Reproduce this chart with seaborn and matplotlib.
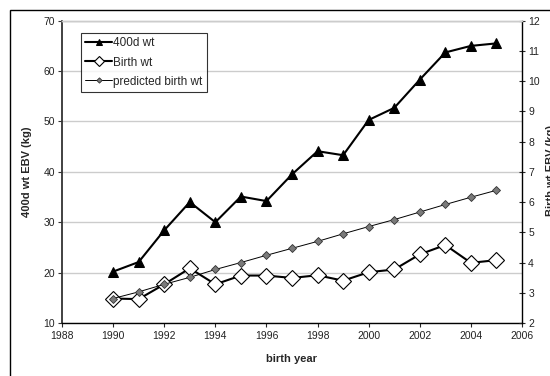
import matplotlib
matplotlib.use("Agg")
import matplotlib.pyplot as plt
import seaborn as sns
import pandas as pd
from matplotlib.patches import Rectangle

years = [1990, 1991, 1992, 1993, 1994, 1995, 1996, 1997,
         1998, 1999, 2000, 2001, 2002, 2003, 2004, 2005]
wt400 = [20.2, 22.1, 28.4, 34.0, 30.0, 35.1, 34.2, 39.5,
         44.1, 43.3, 50.3, 52.7, 58.3, 63.7, 65.0, 65.5]
birth_wt = [2.81, 2.79, 3.28, 3.81, 3.28, 3.57, 3.57, 3.49,
            3.58, 3.40, 3.68, 3.77, 4.27, 4.58, 3.99, 4.08]
pred_birth = [2.81, 3.03, 3.28, 3.51, 3.77, 4.00, 4.24, 4.47,
              4.70, 4.95, 5.19, 5.42, 5.67, 5.92, 6.16, 6.39]
x_ticks = [1988, 1990, 1992, 1994, 1996, 1998, 2000, 2002, 2004, 2006]
left_ticks = [10, 20, 30, 40, 50, 60, 70]
right_ticks = [2, 3, 4, 5, 6, 7, 8, 9, 10, 11, 12]

df = pd.DataFrame({"year": years, "wt400": wt400, "birth": birth_wt, "pred": pred_birth})

sns.set_style("white")
plt.rcParams["font.family"] = ["Liberation Sans", "DejaVu Sans"]

fig = plt.figure(figsize=(5.5, 3.76), dpi=100)
ax = fig.add_axes([62/550, 1-323/376, (522-62)/550, (323-20.7)/376])
ax2 = ax.twinx()

sns.lineplot(data=df, x="year", y="wt400", ax=ax, color="black", linewidth=1.5,
             marker="^", markersize=7.5, markerfacecolor="black",
             markeredgecolor="black", label="400d wt", legend=False)
sns.lineplot(data=df, x="year", y="birth", ax=ax2, color="black", linewidth=1.5,
             marker="D", markersize=8, markerfacecolor="white",
             markeredgecolor="black", markeredgewidth=0.8, label="Birth wt", legend=False)
sns.lineplot(data=df, x="year", y="pred", ax=ax2, color="black", linewidth=0.7,
             marker="D", markersize=4.5, markerfacecolor="#7a7a7a",
             markeredgecolor="#333333", markeredgewidth=0.6, label="predicted birth wt", legend=False)

ax.set_xlim(1988, 2006)
ax.set_ylim(10, 70)
ax2.set_ylim(2, 12)
ax.set_xticks(x_ticks)
ax.set_yticks(left_ticks)
ax2.set_yticks(right_ticks)

ax.yaxis.grid(True, color="#cccccc", linewidth=1)
ax.xaxis.grid(False)
ax.set_axisbelow(True)
ax2.grid(False)

for a in (ax, ax2):
    a.spines["top"].set_color("#cccccc")
    a.spines["top"].set_linewidth(1)
ax.spines["left"].set_color("#333333")
ax.spines["left"].set_linewidth(1.3)
ax2.spines["left"].set_visible(False)
ax.spines["bottom"].set_color("black")
ax.spines["bottom"].set_linewidth(1)
ax2.spines["bottom"].set_visible(False)
ax2.spines["right"].set_color("black")
ax2.spines["right"].set_linewidth(1)
ax.spines["right"].set_visible(False)

ax.tick_params(axis="y", which="both", left=True, direction="out", length=3,
               width=0.8, color="#333333", labelsize=7.5, pad=2, labelcolor="#222222")
ax.tick_params(axis="x", bottom=True, direction="out", length=3, width=0.8,
               labelsize=7.5, pad=3, labelcolor="#222222")
ax2.tick_params(axis="y", right=True, direction="inout", length=5, width=0.8,
                labelsize=7.5, pad=2, labelcolor="#222222")

ax.set_xlabel("birth year", fontsize=8, fontweight="bold", labelpad=9)
ax.set_ylabel("400d wt EBV (kg)", fontsize=8, fontweight="bold", labelpad=8)
ax2.set_ylabel("")
fig.text(551/550, 1-170/376, "Birth wt EBV (kg)", rotation=90, ha="center",
         va="center", fontsize=8, fontweight="bold")

h1, l1 = ax.get_legend_handles_labels()
h2, l2 = ax2.get_legend_handles_labels()
leg = ax2.legend(h1 + h2, l1 + l2, loc="upper left",
                 bbox_to_anchor=((81-62)/460, (323-33.3)/302.3), borderaxespad=0,
                 fontsize=8.5, frameon=True, fancybox=False, handlelength=2.3,
                 handletextpad=0.1, labelspacing=0.6, borderpad=0.35,
                 markerscale=0.6)
leg.get_frame().set_edgecolor("black")
leg.get_frame().set_linewidth(0.8)

fig.patches.append(Rectangle((10/550, -0.1), 1.2, 1 - 10/376 + 0.1,
                             transform=fig.transFigure, fill=False,
                             edgecolor="black", linewidth=1))

fig.savefig("out.png", dpi=100)
